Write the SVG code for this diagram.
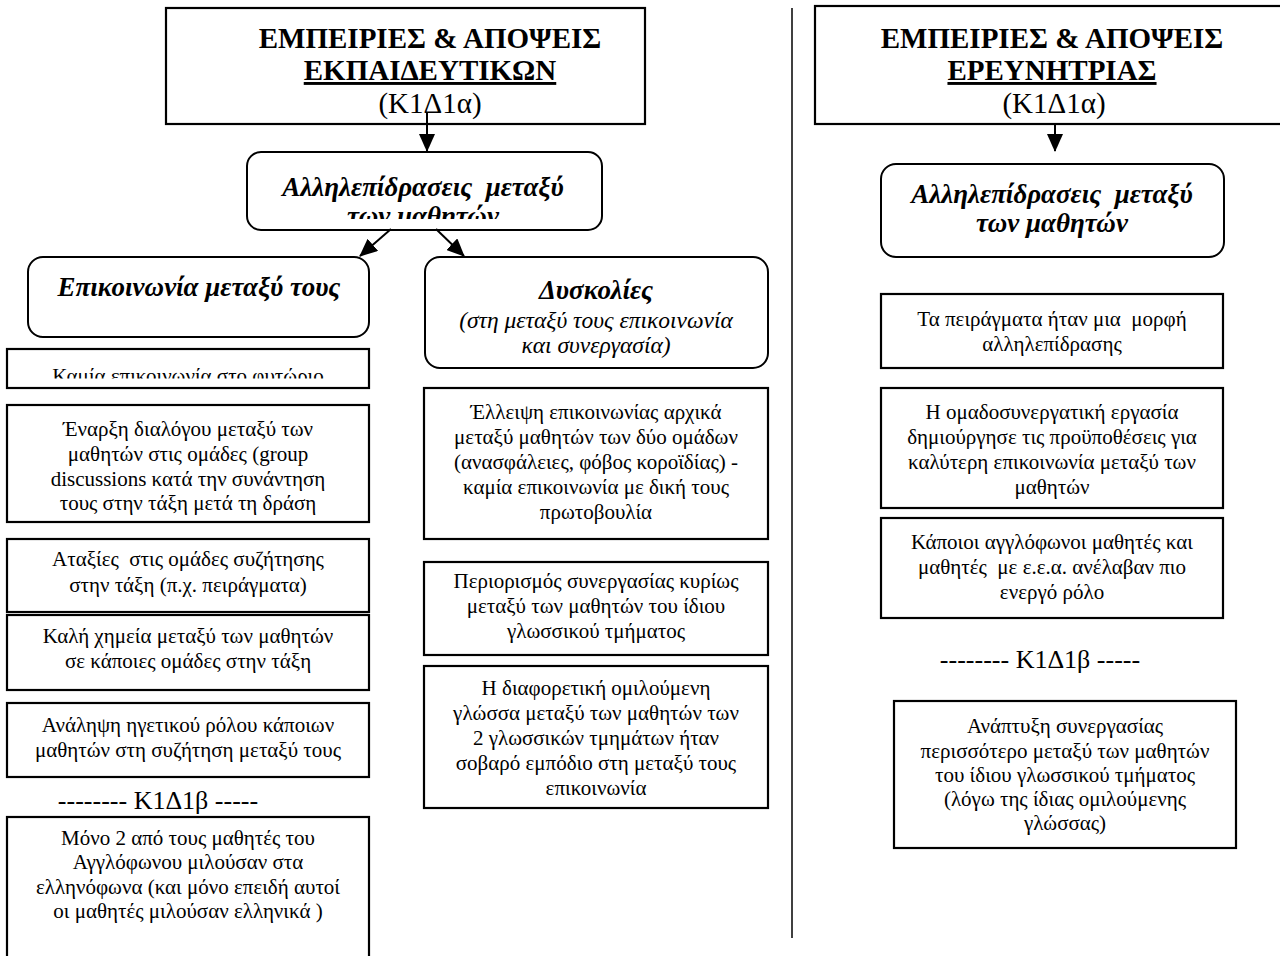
<svg xmlns="http://www.w3.org/2000/svg" width="1280" height="956" viewBox="0 0 1280 956">
  <defs>
    <style>
      text { font-family: "Liberation Serif", "Times New Roman", serif; fill: #000; white-space: pre; }
      .box { fill: #fff; stroke: #000; stroke-width: 2.2; }
      .rbox { fill: #fff; stroke: #000; stroke-width: 2; }
      .t { font-size: 21px; text-anchor: middle; }
      .h { font-size: 29px; font-weight: bold; text-anchor: middle; }
      .hk { font-size: 29px; text-anchor: middle; }
      .bi { font-size: 27px; font-weight: bold; font-style: italic; text-anchor: middle; }
      .it { font-size: 23.5px; font-style: italic; text-anchor: middle; }
      .sep { font-size: 26px; text-anchor: middle; }
      .conn { stroke: #000; stroke-width: 2; fill: none; }
      .divider { stroke: #000; stroke-width: 1.5; }
    </style>
    <marker id="arrow" markerUnits="userSpaceOnUse" markerWidth="18" markerHeight="16" refX="17" refY="8" orient="auto">
      <path d="M0,0 L18,8 L0,16 Z" fill="#000"/>
    </marker>
    <clipPath id="clipInteractL"><rect x="247" y="152" width="355" height="67"/></clipPath>
    <clipPath id="clipNursery"><rect x="7" y="349" width="362" height="29.5"/></clipPath>
  </defs>

  <rect x="0" y="0" width="1280" height="956" fill="#fff"/>

  <!-- column divider -->
  <line class="divider" x1="792" y1="8" x2="792" y2="938"/>

  <!-- left column: teachers -->
  <g id="hdr-teachers">
    <rect class="box" x="166" y="8" width="479" height="116"/>
    <text class="h" x="430" y="48">ΕΜΠΕΙΡΙΕΣ &amp; ΑΠΟΨΕΙΣ</text>
    <text class="h" x="430" y="80" text-decoration="underline">ΕΚΠΑΙΔΕΥΤΙΚΩΝ</text>
    <text class="hk" x="430" y="113">(Κ1Δ1α)</text>
  </g>

  <g id="interact-left">
    <rect class="rbox" x="247" y="152" width="355" height="78" rx="14"/>
    <g clip-path="url(#clipInteractL)">
      <text class="bi" x="423" y="196">Αλληλεπίδρασεις  μεταξύ</text>
      <text class="bi" x="423" y="225">των μαθητών</text>
    </g>
  </g>

  <g id="communication">
    <rect class="rbox" x="28" y="257" width="341" height="80" rx="15"/>
    <text class="bi" x="199" y="296">Επικοινωνία μεταξύ τους</text>
  </g>

  <g id="nursery">
    <rect class="box" x="7" y="349" width="362" height="39"/>
    <g clip-path="url(#clipNursery)">
      <text class="t" x="188" y="383">Καμία επικοινωνία στο φυτώριο</text>
    </g>
  </g>

  <g id="dialogue">
    <rect class="box" x="7" y="405" width="362" height="117"/>
    <text class="t" x="188" y="436">Έναρξη διαλόγου μεταξύ των</text>
    <text class="t" x="188" y="461">μαθητών στις ομάδες (group</text>
    <text class="t" x="188" y="486">discussions κατά την συνάντηση</text>
    <text class="t" x="188" y="510">τους στην τάξη μετά τη δράση</text>
  </g>

  <g id="disorder">
    <rect class="box" x="7" y="539" width="362" height="73"/>
    <text class="t" x="188" y="566">Αταξίες  στις ομάδες συζήτησης</text>
    <text class="t" x="188" y="592">στην τάξη (π.χ. πειράγματα)</text>
  </g>

  <g id="chemistry">
    <rect class="box" x="7" y="615" width="362" height="75"/>
    <text class="t" x="188" y="643">Καλή χημεία μεταξύ των μαθητών</text>
    <text class="t" x="188" y="668">σε κάποιες ομάδες στην τάξη</text>
  </g>

  <g id="leadership">
    <rect class="box" x="7" y="703" width="362" height="74"/>
    <text class="t" x="188" y="732">Ανάληψη ηγετικού ρόλου κάποιων</text>
    <text class="t" x="188" y="757">μαθητών στη συζήτηση μεταξύ τους</text>
  </g>

  <g id="sep-left">
    <text class="sep" x="158" y="809">-------- Κ1Δ1β -----</text>
  </g>

  <g id="greek-speakers">
    <rect class="box" x="7" y="817" width="362" height="150"/>
    <text class="t" x="188" y="845">Μόνο 2 από τους μαθητές του</text>
    <text class="t" x="188" y="869">Αγγλόφωνου μιλούσαν στα</text>
    <text class="t" x="188" y="894">ελληνόφωνα (και μόνο επειδή αυτοί</text>
    <text class="t" x="188" y="918">οι μαθητές μιλούσαν ελληνικά )</text>
  </g>

  <!-- middle column: difficulties -->
  <g id="difficulties">
    <rect class="rbox" x="425" y="257" width="343" height="111" rx="15"/>
    <text class="bi" x="596" y="299">Δυσκολίες</text>
    <text class="it" x="596" y="328">(στη μεταξύ τους επικοινωνία</text>
    <text class="it" x="596" y="353">και συνεργασία)</text>
  </g>

  <g id="lack-comm">
    <rect class="box" x="424" y="388" width="344" height="151"/>
    <text class="t" x="596" y="419">Έλλειψη επικοινωνίας αρχικά</text>
    <text class="t" x="596" y="444">μεταξύ μαθητών των δύο ομάδων</text>
    <text class="t" x="596" y="469">(ανασφάλειες, φόβος κοροϊδίας) -</text>
    <text class="t" x="596" y="494">καμία επικοινωνία με δική τους</text>
    <text class="t" x="596" y="519">πρωτοβουλία</text>
  </g>

  <g id="limited-coop">
    <rect class="box" x="424" y="562" width="344" height="93"/>
    <text class="t" x="596" y="588">Περιορισμός συνεργασίας κυρίως</text>
    <text class="t" x="596" y="613">μεταξύ των μαθητών του ίδιου</text>
    <text class="t" x="596" y="638">γλωσσικού τμήματος</text>
  </g>

  <g id="language-barrier">
    <rect class="box" x="424" y="666" width="344" height="142"/>
    <text class="t" x="596" y="695">Η διαφορετική ομιλούμενη</text>
    <text class="t" x="596" y="720">γλώσσα μεταξύ των μαθητών των</text>
    <text class="t" x="596" y="745">2 γλωσσικών τμημάτων ήταν</text>
    <text class="t" x="596" y="770">σοβαρό εμπόδιο στη μεταξύ τους</text>
    <text class="t" x="596" y="795">επικοινωνία</text>
  </g>

  <!-- right column: researcher -->
  <g id="hdr-researcher">
    <rect class="box" x="815" y="6" width="480" height="118"/>
    <text class="h" x="1052" y="48">ΕΜΠΕΙΡΙΕΣ &amp; ΑΠΟΨΕΙΣ</text>
    <text class="h" x="1052" y="80" text-decoration="underline">ΕΡΕΥΝΗΤΡΙΑΣ</text>
    <text class="hk" x="1054" y="113">(Κ1Δ1α)</text>
  </g>

  <g id="interact-right">
    <rect class="rbox" x="881" y="164" width="343" height="93" rx="15"/>
    <text class="bi" x="1052" y="203">Αλληλεπίδρασεις  μεταξύ</text>
    <text class="bi" x="1052" y="232">των μαθητών</text>
  </g>

  <g id="teasing">
    <rect class="box" x="881" y="294" width="342" height="74"/>
    <text class="t" x="1052" y="326">Τα πειράγματα ήταν μια  μορφή</text>
    <text class="t" x="1052" y="351">αλληλεπίδρασης</text>
  </g>

  <g id="group-work">
    <rect class="box" x="881" y="388" width="342" height="120"/>
    <text class="t" x="1052" y="419">Η ομαδοσυνεργατική εργασία</text>
    <text class="t" x="1052" y="444">δημιούργησε τις προϋποθέσεις για</text>
    <text class="t" x="1052" y="469">καλύτερη επικοινωνία μεταξύ των</text>
    <text class="t" x="1052" y="494">μαθητών</text>
  </g>

  <g id="active-role">
    <rect class="box" x="881" y="518" width="342" height="100"/>
    <text class="t" x="1052" y="549">Κάποιοι αγγλόφωνοι μαθητές και</text>
    <text class="t" x="1052" y="574">μαθητές  με ε.ε.α. ανέλαβαν πιο</text>
    <text class="t" x="1052" y="599">ενεργό ρόλο</text>
  </g>

  <g id="sep-right">
    <text class="sep" x="1040" y="668">-------- Κ1Δ1β -----</text>
  </g>

  <g id="coop-growth">
    <rect class="box" x="894" y="701" width="342" height="147"/>
    <text class="t" x="1065" y="733">Ανάπτυξη συνεργασίας</text>
    <text class="t" x="1065" y="758">περισσότερο μεταξύ των μαθητών</text>
    <text class="t" x="1065" y="782">του ίδιου γλωσσικού τμήματος</text>
    <text class="t" x="1065" y="806">(λόγω της ίδιας ομιλούμενης</text>
    <text class="t" x="1065" y="830">γλώσσας)</text>
  </g>

  <!-- connectors -->
  <g id="connectors">
    <line class="conn" x1="427" y1="112" x2="427" y2="151" marker-end="url(#arrow)"/>
    <line class="conn" x1="391" y1="229" x2="360" y2="256" marker-end="url(#arrow)"/>
    <line class="conn" x1="436" y1="229" x2="464" y2="256" marker-end="url(#arrow)"/>
    <line class="conn" x1="1055" y1="124" x2="1055" y2="151" marker-end="url(#arrow)"/>
  </g>
</svg>
